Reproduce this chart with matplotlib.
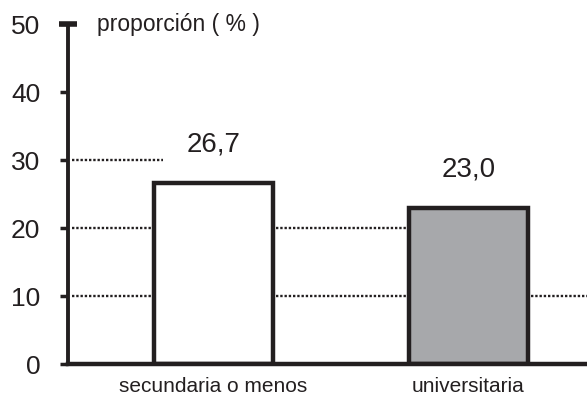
import matplotlib
matplotlib.use("Agg")
import matplotlib.pyplot as plt

# data
categories = ["secundaria o menos", "universitaria"]
values = [26.7, 23.0]
value_labels = ["26,7", "23,0"]
bar_colors = ["white", "#a7a8ab"]
y_ticks = [0, 10, 20, 30, 40, 50]
grid_levels = [10, 20, 30]

INK = "#231f20"
plt.rcParams["font.family"] = ["Liberation Sans Narrow", "Liberation Sans", "DejaVu Sans"]

fig = plt.figure(figsize=(5.87, 4.04), dpi=100)
ax = fig.add_axes([0.1158, 0.0978, 0.8842, 0.8421])

x = list(range(len(categories)))
ax.set_xlim(-0.571, 1.465)
ax.set_ylim(0, 50)

# dotted reference lines (each stops at a different point in the original)
grid_ends = [1.465, 1.0, -0.2]
for lvl, end in zip(grid_levels, grid_ends):
    ax.hlines(lvl, -0.555, end, colors=INK, linestyles=(0, (1, 0.8)),
              linewidth=1.7, zorder=1)

ax.bar(x, values, width=0.467, color=bar_colors, edgecolor=INK,
       linewidth=3.2, zorder=2)

for xi, v, lab in zip(x, values, value_labels):
    ax.annotate(lab, (xi, v), xytext=(0, 18), textcoords="offset points",
                ha="center", va="bottom", fontsize=20, color=INK)

ax.text(0.056, 50, "proporción ( % )", transform=ax.get_yaxis_transform(),
        ha="left", va="center", fontsize=16.5, color=INK)

# top cap on the y axis
ax.plot([-0.571], [50], marker="_", markersize=13, mew=4, color=INK,
        clip_on=False, zorder=5)

for side in ["top", "right"]:
    ax.spines[side].set_visible(False)
ax.spines["left"].set_linewidth(2.8)
ax.spines["bottom"].set_linewidth(3.2)
ax.spines["left"].set_color(INK)
ax.spines["bottom"].set_color(INK)
ax.spines["bottom"].set_zorder(3)

ax.set_yticks(y_ticks)
ax.tick_params(axis="y", length=6, width=2.5, color=INK, pad=14,
               labelsize=19, labelcolor=INK)
ax.set_xticks(x)
ax.set_xticklabels(categories)
ax.tick_params(axis="x", length=0, pad=9, labelsize=15, labelcolor=INK)

fig.savefig("out.png", dpi=100)
